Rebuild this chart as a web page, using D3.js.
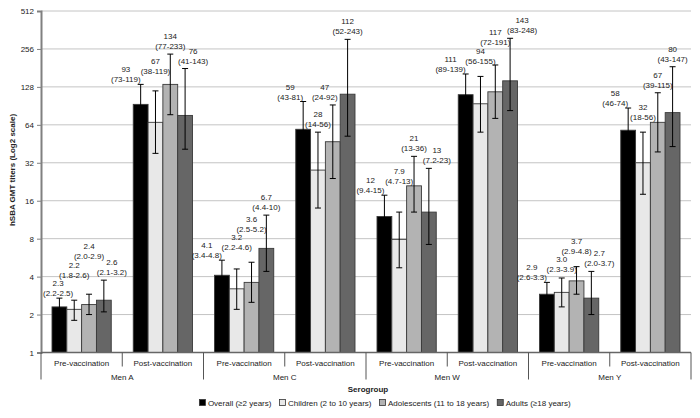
<!DOCTYPE html>
<html><head><meta charset="utf-8">
<script src="https://cdn.jsdelivr.net/npm/d3@7"></script>
<style>body{margin:0;background:#fff}svg{display:block;font-family:"Liberation Sans",Arial,Helvetica,sans-serif}</style>
</head><body><svg id="c" width="700" height="418"></svg>
<script>
// ---------- data ----------
const categories = ["Men A", "Men C", "Men W", "Men Y"];
const phases = ["Pre-vaccination", "Post-vaccination"];
const seriesNames = ["Overall (\u22652 years)", "Children (2 to 10 years)", "Adolescents (11 to 18 years)", "Adults (\u226518 years)"];
const yTicks = [1, 2, 4, 8, 16, 32, 64, 128, 256, 512];
const axisTitle = "hSBA GMT titers (Log2 scale)";
const xTitle = "Serogroup";
// order of every array: A pre, A post, C pre, C post, W pre, W post, Y pre, Y post
const overallGMT  = [2.3, 93, 4.1, 59, 12, 111, 2.9, 58];
const overallLow  = [2.2, 73, 3.4, 43, 9.4, 89, 2.6, 46];
const overallHigh = [2.5, 119, 4.8, 81, 15, 139, 3.3, 74];
const childrenGMT  = [2.2, 67, 3.2, 28, 7.9, 94, 3.0, 32];
const childrenLow  = [1.8, 38, 2.2, 14, 4.7, 56, 2.3, 18];
const childrenHigh = [2.6, 119, 4.6, 56, 13, 155, 3.9, 56];
const adolGMT  = [2.4, 134, 3.6, 47, 21, 117, 3.7, 67];
const adolLow  = [2.0, 77, 2.5, 24, 13, 72, 2.9, 39];
const adolHigh = [2.9, 233, 5.2, 92, 36, 191, 4.8, 115];
const adultGMT  = [2.6, 76, 6.7, 112, 13, 143, 2.7, 80];
const adultLow  = [2.1, 41, 4.4, 52, 7.2, 83, 2.0, 43];
const adultHigh = [3.2, 143, 10, 243, 23, 248, 3.7, 147];
// upper ends of the error bars as drawn in the picture
const overallBarTop  = [2.7, 134, 5.4, 98, 17.7, 162, 3.6, 87];
const childrenBarTop = [2.6, 119, 4.6, 56, 13, 155, 3.9, 56];
const adolBarTop     = [2.9, 233, 5.2, 92, 36, 191, 4.8, 115];
const adultBarTop    = [3.75, 179, 12.3, 305, 28.9, 311, 4.4, 185];

const fills = ["#000000", "#e8e8e8", "#b3b3b3", "#666666"];
const series = [
  {name: seriesNames[0], gmt: overallGMT, low: overallLow, high: overallHigh, top: overallBarTop},
  {name: seriesNames[1], gmt: childrenGMT, low: childrenLow, high: childrenHigh, top: childrenBarTop},
  {name: seriesNames[2], gmt: adolGMT, low: adolLow, high: adolHigh, top: adolBarTop},
  {name: seriesNames[3], gmt: adultGMT, low: adultLow, high: adultHigh, top: adultBarTop}
];
// label nudging candidates (horizontal) per series, and whether whiskers are obstacles
const shiftOptions = [[0], [0], [0, -8], [0, 4, 8, 12]];
const avoidWhiskers = [false, false, false, true];

// ---------- layout ----------
const svg = d3.select("#c");
const L = 41, R = 691, T = 11, B = 352.5;
const keys = [];
categories.forEach(c => phases.forEach(p => keys.push(c + "|" + p)));
const x0 = d3.scaleBand().domain(keys).range([L, R]);
const x1 = d3.scaleBand().domain(d3.range(series.length)).range([11, x0.bandwidth() - 11]);
const y = d3.scaleLog().base(2).domain([1, 512]).range([B, T]);
const fmt = v => v < 10 ? v.toFixed(1) : String(v);
const textCol = "#222";

// gridlines
svg.append("g").selectAll("line").data(yTicks.slice(1)).join("line")
  .attr("x1", L).attr("x2", R).attr("y1", d => y(d)).attr("y2", d => y(d))
  .attr("stroke", "#c4c4c4").attr("stroke-width", 1);

// bars
const barG = svg.append("g");
series.forEach((s, si) => {
  barG.append("g").selectAll("rect").data(keys).join("rect")
    .attr("x", k => x0(k) + x1(si))
    .attr("width", x1.bandwidth())
    .attr("y", (k, i) => y(s.gmt[i]))
    .attr("height", (k, i) => B - y(s.gmt[i]))
    .attr("fill", fills[si]).attr("stroke", "#3a3a3a").attr("stroke-width", 0.9);
});

// error bars
const errG = svg.append("g").attr("stroke", "#000").attr("stroke-width", 1);
series.forEach((s, si) => {
  keys.forEach((k, i) => {
    const cx = x0(k) + x1(si) + x1.bandwidth() / 2;
    const yt = y(s.top[i]), yb = y(s.low[i]);
    errG.append("line").attr("x1", cx).attr("x2", cx).attr("y1", yt).attr("y2", yb);
    errG.append("line").attr("x1", cx - 3).attr("x2", cx + 3).attr("y1", yt).attr("y2", yt);
    errG.append("line").attr("x1", cx - 3).attr("x2", cx + 3).attr("y1", yb).attr("y2", yb);
  });
});

// y axis
const yAxis = d3.axisLeft(y).tickValues(yTicks).tickFormat(d3.format("d")).tickSize(4).tickPadding(3);
const yg = svg.append("g").attr("transform", `translate(${L},0)`).call(yAxis);
yg.select(".domain").attr("stroke", "#808080").attr("stroke-width", 2);
yg.selectAll(".tick line").attr("stroke", "#808080");
yg.selectAll(".tick text").attr("font-size", 8).attr("fill", textCol).attr("font-family", null);
svg.append("text").attr("transform", `translate(15,170) rotate(-90)`)
  .attr("text-anchor", "middle").attr("font-size", 8).attr("font-weight", "bold").attr("fill", textCol)
  .text(axisTitle);

// x axis (two-level)
const xg = svg.append("g").attr("stroke", "#555").attr("stroke-width", 1);
xg.append("line").attr("x1", L).attr("x2", R).attr("y1", B).attr("y2", B).attr("stroke", "#666").attr("stroke-width", 1.5);
keys.forEach((k, i) => {
  if (i > 0 && i % phases.length !== 0) {
    xg.append("line").attr("x1", x0(k)).attr("x2", x0(k)).attr("y1", B).attr("y2", B + 14);
  }
});
categories.forEach(c => {
  const xs = x0(c + "|" + phases[0]);
  xg.append("line").attr("x1", xs).attr("x2", xs).attr("y1", B).attr("y2", B + 27);
});
xg.append("line").attr("x1", R).attr("x2", R).attr("y1", B).attr("y2", B + 27);
svg.append("g").selectAll("text").data(keys).join("text")
  .attr("x", k => x0(k) + x0.bandwidth() / 2).attr("y", B + 13)
  .attr("text-anchor", "middle").attr("font-size", 8).attr("fill", textCol)
  .text(k => k.split("|")[1]);
svg.append("g").selectAll("text").data(categories).join("text")
  .attr("x", c => x0(c + "|" + phases[0]) + x0.bandwidth())
  .attr("y", B + 27).attr("text-anchor", "middle").attr("font-size", 8).attr("fill", textCol)
  .text(c => c);
svg.append("text").attr("x", (L + R) / 2 + 2).attr("y", 392).attr("text-anchor", "middle")
  .attr("font-size", 8).attr("font-weight", "bold").attr("fill", textCol).text(xTitle);

// legend
const lg = svg.append("g");
let lx = 0;
series.forEach((s, si) => {
  const g = lg.append("g").attr("transform", `translate(${lx},0)`);
  g.append("rect").attr("x", 0).attr("y", 399.5).attr("width", 6).attr("height", 6)
    .attr("fill", fills[si]).attr("stroke", "#333").attr("stroke-width", 0.8);
  const t = g.append("text").attr("x", 8.5).attr("y", 405.5).attr("font-size", 8).attr("fill", textCol).text(s.name);
  lx += 8.5 + t.node().getComputedTextLength() + 8;
});
lg.attr("transform", `translate(${385 - (lx - 8) / 2},0)`);

// data labels with simple collision avoidance
const labG = svg.append("g").attr("font-size", 8).attr("fill", textCol).attr("text-anchor", "middle");
const PX = 1.5, PY = 0.5;
const overlap = (a, b) => a.x0 < b.x1 + PX && a.x1 > b.x0 - PX && a.y0 < b.y1 + PY && a.y1 > b.y0 - PY;
keys.forEach((k, i) => {
  const bars = [], whisk = [];
  series.forEach((s, si) => {
    const bx = x0(k) + x1(si), cx = bx + x1.bandwidth() / 2;
    bars.push({si, x0: bx, x1: bx + x1.bandwidth(), y0: y(s.gmt[i]), y1: B});
    whisk.push({si, x0: cx, x1: cx, y0: y(s.top[i]), y1: y(s.low[i])});
    whisk.push({si, x0: cx - 3, x1: cx + 3, y0: y(s.top[i]), y1: y(s.top[i])});
  });
  const placed = [];
  series.forEach((s, si) => {
    const cx = x0(k) + x1(si) + x1.bandwidth() / 2;
    const cap = y(s.top[i]);
    const g = labG.append("g");
    const t1 = g.append("text").text(fmt(s.gmt[i]));
    const t2 = g.append("text").text("(" + fmt(s.low[i]) + "-" + fmt(s.high[i]) + ")");
    const w1 = t1.node().getComputedTextLength(), w2 = t2.node().getComputedTextLength();
    const wm = Math.max(w1, w2);
    const boxes = (px, b) => [
      {x0: px - w1 / 2, x1: px + w1 / 2, y0: b - 16, y1: b - 8.5},
      {x0: px - w2 / 2, x1: px + w2 / 2, y0: b - 6, y1: b + 1.5}
    ];
    const obst = bars.filter(o => o.si !== si).concat(avoidWhiskers[si] ? whisk.filter(o => o.si !== si) : []);
    let px, pb;
    if (si === 0) {
      px = Math.max(cx - wm / 2, L + 2 + wm / 2);
      pb = cap - 2;
    } else {
      const b0 = cap - 5;
      let done = false;
      for (let b = b0; b > 12 && !done; b -= 0.5) {
        for (const dx of shiftOptions[si]) {
          const bx = boxes(cx + dx, b);
          const hit = bx.some(q => placed.some(p => overlap(q, p)) || obst.some(o => overlap(q, o)));
          if (!hit) { px = cx + dx; pb = b; done = true; break; }
        }
      }
      if (!done) { px = cx; pb = b0; }
    }
    boxes(px, pb).forEach(q => placed.push(q));
    t1.attr("x", px).attr("y", pb - 10);
    t2.attr("x", px).attr("y", pb);
  });
});
</script></body></html>
